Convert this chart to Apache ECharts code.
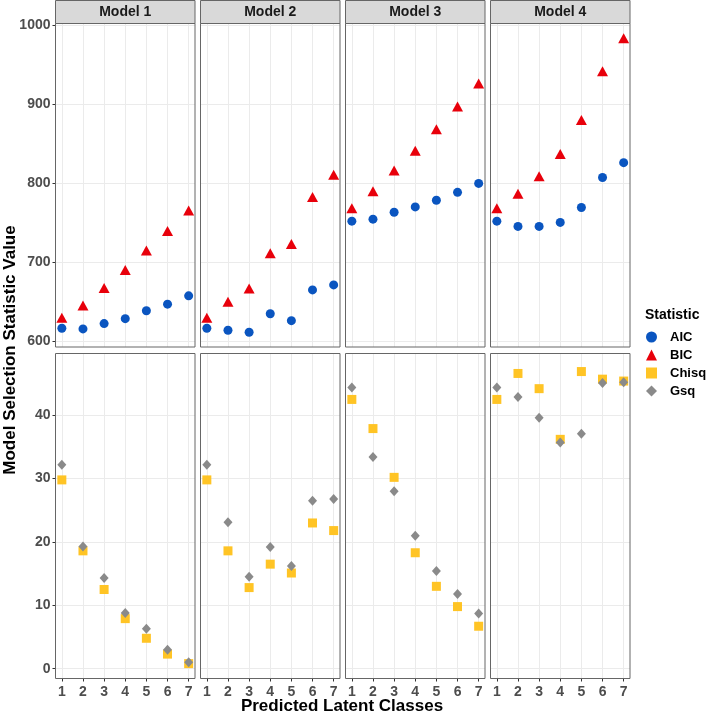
<!DOCTYPE html>
<html>
<head>
<meta charset="utf-8">
<script src="https://cdn.jsdelivr.net/npm/echarts@6.0.0/dist/echarts.min.js"></script>
<style>
  html, body { margin: 0; padding: 0; background: #fff; }
  #facet-chart { width: 708px; height: 714px; }
</style>
</head>
<body>
<div id="facet-chart"></div>
<script>
// predicted latent classes (x) and facet names
var classes = [1, 2, 3, 4, 5, 6, 7];
var models = ['Model 1', 'Model 2', 'Model 3', 'Model 4'];

// one row per model
var aic = [
  [616.7, 615.9, 622.6, 628.8, 638.9, 647.2, 657.7],
  [616.7, 614.2, 611.7, 635.1, 626.3, 665.2, 671.5],
  [752.1, 754.6, 763.4, 770.1, 778.5, 788.5, 799.8],
  [752.1, 745.5, 745.5, 750.5, 769.3, 807.3, 826.1]
];
var bic = [
  [630.1, 645.6, 667.7, 690.3, 714.9, 739.6, 765.5],
  [630.1, 650.2, 666.9, 711.6, 723.3, 782.7, 810.7],
  [768.4, 789.8, 816.1, 841.2, 868.3, 897.2, 926.0],
  [768.4, 786.8, 808.8, 836.9, 880.0, 941.5, 983.3]
];
var chisq = [
  [29.8, 18.6, 12.5, 7.9, 4.8, 2.3, 0.8],
  [29.8, 18.6, 12.8, 16.5, 15.1, 23.0, 21.8],
  [42.5, 37.9, 30.2, 18.3, 13.0, 9.8, 6.7],
  [42.5, 46.6, 44.2, 36.2, 46.9, 45.7, 45.4]
];
var gsq = [
  [32.2, 19.3, 14.3, 8.8, 6.3, 3.0, 1.0],
  [32.2, 23.1, 14.5, 19.2, 16.2, 26.5, 26.8],
  [44.4, 33.4, 28.0, 21.0, 15.4, 11.8, 8.7],
  [44.4, 42.9, 39.6, 35.7, 37.1, 45.1, 45.2]
];
var topTicks = [600, 700, 800, 900, 1000];
var bottomTicks = [0, 10, 20, 30, 40];

var FONT = '"Liberation Sans", Arial, sans-serif';
var colors = { AIC: '#0a55c0', BIC: '#e8000b', Chisq: '#ffc425', Gsq: '#8a8a8a' };

var panelLeft = [55.5, 200.5, 345.5, 490.5];
var panelW = 139.5;
var rowTop = [23.5, 353.5];
var rowH = [323.5, 325];

var myChart = echarts.init(document.getElementById('facet-chart'));

var grids = [], xAxes = [], yAxes = [], series = [], graphics = [];

function pairs(vals) {
  return classes.map(function (c, i) { return [c, vals[i]]; });
}
function plain(v) { return String(v); }

for (var r = 0; r < 2; r++) {
  for (var c = 0; c < 4; c++) {
    var idx = r * 4 + c;
    grids.push({ left: panelLeft[c], top: rowTop[r], width: panelW, height: rowH[r], show: true, backgroundColor: '#fff', borderWidth: 0 });
    xAxes.push({
      type: 'value', gridIndex: idx, min: 0.7, max: 7.3, splitNumber: 13,
      axisLine: { show: false, onZero: false },
      axisTick: { show: r === 1, length: 3, lineStyle: { color: '#333' }, customValues: classes },
      axisLabel: { show: r === 1, margin: 7, customValues: classes, formatter: plain,
        fontFamily: FONT, fontWeight: 'bold', fontSize: 14, color: '#4d4d4d' },
      splitLine: { show: true, lineStyle: { color: '#ebebeb', width: 1 } }
    });
    yAxes.push({
      type: 'value', gridIndex: idx,
      min: r === 0 ? 593 : -1.55,
      max: r === 0 ? 1002 : 49.75,
      splitNumber: r === 0 ? 8 : 10,
      axisLine: { show: false, onZero: false },
      axisTick: { show: c === 0, length: 3, lineStyle: { color: '#333' }, customValues: r === 0 ? topTicks : bottomTicks },
      axisLabel: { show: c === 0, margin: 5, customValues: r === 0 ? topTicks : bottomTicks, formatter: plain,
        fontFamily: FONT, fontWeight: 'bold', fontSize: 14, color: '#4d4d4d' },
      splitLine: { show: true, lineStyle: { color: '#ebebeb', width: 1 } }
    });
    if (r === 0) {
      series.push({ name: 'AIC', type: 'scatter', xAxisIndex: idx, yAxisIndex: idx,
        symbol: 'circle', symbolSize: 9, itemStyle: { color: colors.AIC, opacity: 1 }, data: pairs(aic[c]) });
      series.push({ name: 'BIC', type: 'scatter', xAxisIndex: idx, yAxisIndex: idx,
        symbol: 'triangle', symbolSize: [11, 10], itemStyle: { color: colors.BIC, opacity: 1 }, data: pairs(bic[c]) });
    } else {
      series.push({ name: 'Chisq', type: 'scatter', xAxisIndex: idx, yAxisIndex: idx,
        symbol: 'rect', symbolSize: 9, itemStyle: { color: colors.Chisq, opacity: 1 }, data: pairs(chisq[c]) });
      series.push({ name: 'Gsq', type: 'scatter', xAxisIndex: idx, yAxisIndex: idx,
        symbol: 'diamond', symbolSize: [9, 10], itemStyle: { color: colors.Gsq, opacity: 1 }, data: pairs(gsq[c]) });
    }
    // panel border on top of the gridlines and points
    graphics.push({ type: 'rect', z: 100, silent: true,
      shape: { x: panelLeft[c], y: rowTop[r], width: panelW, height: rowH[r] },
      style: { fill: null, stroke: '#666', lineWidth: 1 } });
  }
}
// strips
for (var s = 0; s < 4; s++) {
  graphics.push({ type: 'rect', z: 100, silent: true,
    shape: { x: panelLeft[s], y: 0.5, width: panelW, height: 23 },
    style: { fill: '#d9d9d9', stroke: '#666', lineWidth: 1 } });
  graphics.push({ type: 'text', z: 101, silent: true,
    x: panelLeft[s] + panelW / 2, y: 12.5,
    style: { text: models[s], font: 'bold 14px ' + FONT, fill: '#1a1a1a', align: 'center', verticalAlign: 'middle' } });
}
// axis titles and legend title
graphics.push({ type: 'text', silent: true, x: 10, y: 350, rotation: Math.PI / 2,
  style: { text: 'Model Selection Statistic Value', font: 'bold 17px ' + FONT, fill: '#000', align: 'center', verticalAlign: 'middle' } });
graphics.push({ type: 'text', silent: true, x: 342, y: 706.5,
  style: { text: 'Predicted Latent Classes', font: 'bold 17px ' + FONT, fill: '#000', align: 'center', verticalAlign: 'middle' } });
graphics.push({ type: 'text', silent: true, x: 645, y: 315,
  style: { text: 'Statistic', font: 'bold 14px ' + FONT, fill: '#000', align: 'left', verticalAlign: 'middle' } });

myChart.setOption({
  animation: false,
  backgroundColor: '#fff',
  grid: grids,
  xAxis: xAxes,
  yAxis: yAxes,
  legend: {
    orient: 'vertical', left: 646, top: 330.5, padding: 0,
    itemWidth: 11, itemHeight: 11, itemGap: 5,
    selectedMode: false,
    textStyle: { fontFamily: FONT, fontWeight: 'bold', fontSize: 13, lineHeight: 12, color: '#000', padding: [0, 0, 0, 8] },
    data: [
      { name: 'AIC', icon: 'circle' },
      { name: 'BIC', icon: 'triangle' },
      { name: 'Chisq', icon: 'rect' },
      { name: 'Gsq', icon: 'diamond' }
    ]
  },
  graphic: graphics,
  series: series
});
</script>
</body>
</html>
